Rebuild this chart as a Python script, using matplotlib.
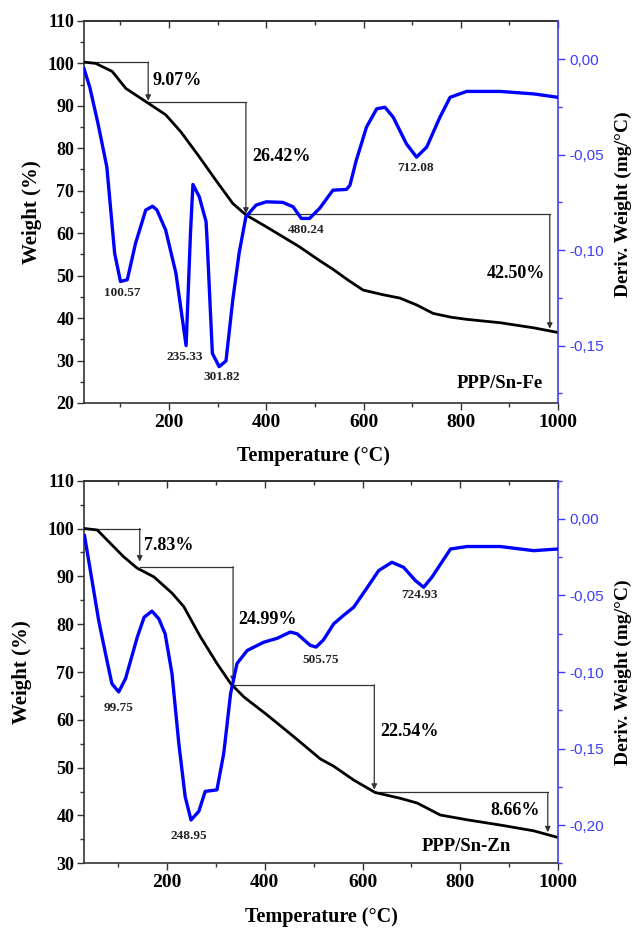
import matplotlib
matplotlib.use('Agg')
import matplotlib.pyplot as plt
from matplotlib.ticker import MultipleLocator, FuncFormatter

# TGA / DTG curves
fe_tga_t = [25, 49, 83, 111, 152, 193, 224, 262, 296, 331, 358, 400, 468, 510, 537,
            570, 599, 640, 675, 709, 743, 780, 812, 881, 950, 1000]
fe_tga_w = [100.3, 100.0, 98.1, 94.1, 91.0, 87.9, 83.9, 78.0, 72.5, 67.0, 64.3, 61.5,
            56.8, 53.5, 51.5, 48.8, 46.6, 45.5, 44.7, 43.1, 41.1, 40.2, 39.7, 38.9, 37.7, 36.6]
fe_dtg_t = [25, 37, 54, 72, 88, 100, 114, 131, 152, 166, 175, 193, 214, 235, 244, 249,
            262, 276, 278, 289, 303, 317, 331, 344, 358, 379, 400, 434, 455, 472, 489,
            510, 537, 565, 572, 585, 606, 627, 644, 661, 688, 709, 730, 757, 778, 812,
            881, 950, 1000]
fe_dtg_d = [-0.005, -0.0148, -0.034, -0.0565, -0.1016, -0.1164, -0.1155, -0.0964, -0.079,
            -0.077, -0.079, -0.0895, -0.112, -0.150, -0.091, -0.0656, -0.072, -0.085,
            -0.094, -0.154, -0.161, -0.158, -0.126, -0.1016, -0.0825, -0.0764, -0.0747,
            -0.075, -0.0773, -0.0834, -0.0834, -0.078, -0.0686, -0.0682, -0.066, -0.053,
            -0.0356, -0.026, -0.0252, -0.0304, -0.0443, -0.0513, -0.046, -0.0304, -0.020,
            -0.0169, -0.0169, -0.0182, -0.020]

zn_tga_t = [31, 57, 84, 111, 139, 173, 210, 234, 268, 302, 330, 357, 405, 459, 514, 541,
            582, 626, 677, 712, 759, 814, 882, 950, 1000]
zn_tga_w = [100.0, 99.7, 96.9, 94.1, 91.7, 89.9, 86.5, 83.7, 77.4, 71.8, 67.6, 64.8, 61.0,
            56.5, 51.8, 50.3, 47.4, 44.8, 43.6, 42.6, 40.1, 39.1, 38.0, 36.8, 35.4]
zn_dtg_t = [31, 43, 60, 74, 87, 101, 115, 139, 153, 169, 183, 196, 210, 224, 237, 249, 265,
            278, 302, 316, 330, 343, 364, 398, 425, 452, 466, 493, 505, 520, 541, 561, 582,
            610, 633, 660, 684, 708, 725, 742, 780, 814, 882, 950, 1000]
zn_dtg_d = [-0.0109, -0.0337, -0.0663, -0.088, -0.1076, -0.113, -0.1043, -0.0772, -0.0642,
            -0.0602, -0.0652, -0.075, -0.101, -0.1467, -0.1815, -0.1967, -0.191, -0.178,
            -0.177, -0.153, -0.114, -0.0945, -0.0859, -0.0805, -0.078, -0.0739, -0.075,
            -0.0826, -0.0837, -0.079, -0.0685, -0.063, -0.0576, -0.0446, -0.0337, -0.0283,
            -0.0316, -0.0402, -0.0446, -0.038, -0.0196, -0.018, -0.018, -0.0207, -0.0196]

# step annotations: (start T, step T, weight before, weight after)
fe_steps = [(25, 157, 100.3, 91.2), (157, 358, 90.8, 64.6), (358, 983, 64.4, 37.5)]
zn_steps = [(31, 144, 100.0, 93.1), (144, 335, 92.0, 67.9), (335, 624, 67.3, 45.4),
            (624, 979, 44.85, 36.5)]
fe_pct = [('9.07%', 165, 96.0, 'left'), ('26.42%', 372, 78.0, 'left'),
          ('42.50%', 973, 50.6, 'right')]
zn_pct = [('7.83%', 152, 96.4, 'left'), ('24.99%', 345, 80.9, 'left'),
          ('22.54%', 636, 57.5, 'left'), ('8.66%', 962, 41.0, 'right')]
fe_peaks = [('100.57', 104, 45.9), ('235.33', 233, 30.8), ('301.82', 308, 26.0),
            ('480.24', 481, 60.8), ('712.08', 706, 75.3)]
zn_peaks = [('99.75', 101, 62.5), ('248.95', 244, 35.7), ('505.75', 515, 72.6),
            ('724.93', 717, 86.1)]

SERIF = 'Liberation Serif'
SANS = 'Liberation Sans'
DARK = '#333333'
BLUE = '#0000ff'
TICKBLUE = '#3c3cff'

panels = [
    dict(pos=[0.1323, 0.5667, 0.7465, 0.4108], xlim=(25, 1000), ylim=(20, 110),
         dlim=(-0.18, 0.02), tga=(fe_tga_t, fe_tga_w), dtg=(fe_dtg_t, fe_dtg_d),
         steps=fe_steps, pct=fe_pct, peaks=fe_peaks, name=('PPP/Sn-Fe', 969, 24.6, 'right'),
         xlab=(0.485, -0.113), ylab=-0.089, dlab=(1.12, 0.52)),
    dict(pos=[0.1323, 0.0717, 0.7465, 0.4114], xlim=(30, 1000), ylim=(30, 110),
         dlim=(-0.225, 0.025), tga=(zn_tga_t, zn_tga_w), dtg=(zn_dtg_t, zn_dtg_d),
         steps=zn_steps, pct=zn_pct, peaks=zn_peaks, name=('PPP/Sn-Zn', 812, 33.6, 'center'),
         xlab=(0.5, -0.113), ylab=-0.11, dlab=(1.12, 0.5)),
]

fig = plt.figure(figsize=(6.35, 9.3), dpi=100)

for p in panels:
    ax = fig.add_axes(p['pos'])
    ax2 = ax.twinx()

    ax.plot(p['tga'][0], p['tga'][1], color='black', lw=2.0, zorder=3)
    ax2.plot(p['dtg'][0], p['dtg'][1], color=BLUE, lw=2.4, zorder=3)

    ax.set_xlim(*p['xlim'])
    ax.set_ylim(*p['ylim'])
    ax2.set_ylim(*p['dlim'])

    # step lines with arrows
    for t0, t1, w0, w1 in p['steps']:
        ax.plot([t0, t1], [w0, w0], color=DARK, lw=0.9)
        ax.annotate('', xy=(t1, w1), xytext=(t1, w0),
                    arrowprops=dict(arrowstyle='-|>', color=DARK, lw=0.9,
                                    mutation_scale=8, shrinkA=0, shrinkB=0))
    for s, t, w, ha in p['pct']:
        ax.text(t, w, s, ha=ha, va='center', fontsize=13, fontweight='bold', family=SERIF)
    for s, t, w in p['peaks']:
        ax.text(t, w, s, ha='center', va='center', fontsize=9.5, fontweight='bold',
                family=SERIF, color='#222222')
    s, t, w, ha = p['name']
    ax.text(t, w, s, ha=ha, va='center', fontsize=13.5, fontweight='bold', family=SERIF)

    # axes styling
    ax.xaxis.set_major_locator(MultipleLocator(200))
    ax.xaxis.set_minor_locator(MultipleLocator(100))
    ax.yaxis.set_major_locator(MultipleLocator(10))
    ax.yaxis.set_minor_locator(MultipleLocator(5))
    ax.tick_params(which='both', direction='out', color=DARK, width=1.0)
    ax.tick_params(which='major', length=5)
    ax.tick_params(which='minor', length=3)
    ax.tick_params(axis='x', labelsize=14, pad=3)
    ax.tick_params(axis='y', labelsize=13, pad=2)
    for lab in ax.get_xticklabels() + ax.get_yticklabels():
        lab.set_family(SERIF)
        lab.set_fontweight('bold')

    top = ax.secondary_xaxis('top')
    top.xaxis.set_major_locator(MultipleLocator(200))
    top.xaxis.set_minor_locator(MultipleLocator(100))
    top.tick_params(which='both', direction='in', labeltop=False, color=DARK, width=1.0)
    top.tick_params(which='major', length=5)
    top.tick_params(which='minor', length=3)
    top.spines['top'].set_color(DARK)
    top.spines['top'].set_linewidth(1.2)

    for side in ['left', 'bottom', 'top']:
        ax.spines[side].set_color(DARK)
        ax.spines[side].set_linewidth(1.2)
    ax.spines['right'].set_visible(False)
    for side in ['left', 'bottom', 'top']:
        ax2.spines[side].set_visible(False)
    ax2.spines['right'].set_color(TICKBLUE)
    ax2.spines['right'].set_linewidth(1.2)

    ax2.yaxis.set_major_locator(MultipleLocator(0.05))
    ax2.yaxis.set_minor_locator(MultipleLocator(0.025))
    ax2.yaxis.set_major_formatter(FuncFormatter(lambda v, pos: ('%.2f' % v).replace('.', ',')))
    ax2.tick_params(which='both', direction='out', color=TICKBLUE, labelcolor=TICKBLUE, width=1.0)
    ax2.tick_params(which='major', length=5, labelsize=11, pad=3)
    ax2.tick_params(which='minor', length=3)
    for lab in ax2.get_yticklabels():
        lab.set_family(SANS)

    ax.set_xlabel('Temperature (\u00b0C)', fontsize=14.5, fontweight='bold', family=SERIF)
    ax.xaxis.set_label_coords(*p['xlab'])
    ax.set_ylabel('Weight (%)', fontsize=15, fontweight='bold', family=SERIF)
    ax.yaxis.set_label_coords(p['ylab'], 0.5)
    ax2.set_ylabel('Deriv. Weight (mg/\u00b0C)', fontsize=14, fontweight='bold', family=SERIF)
    ax2.yaxis.set_label_coords(*p['dlab'])

plt.savefig('out.png', dpi=100)
